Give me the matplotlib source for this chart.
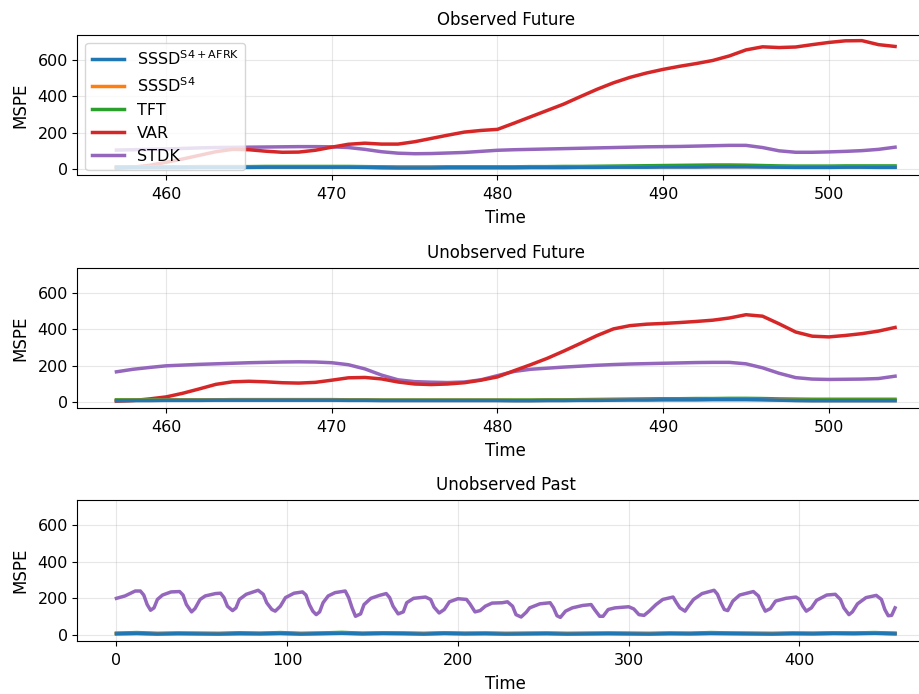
import matplotlib
matplotlib.use("Agg")
import matplotlib.pyplot as plt
import numpy as np

# ---------------- data ----------------
labels = [r"SSSD$^{\mathrm{S4+AFRK}}$", r"SSSD$^{\mathrm{S4}}$", "TFT", "VAR", "STDK"]
colors = ["#1f77b4", "#ff7f0e", "#2ca02c", "#d62728", "#9467bd"]
zorders = [6, 5, 4, 3, 2]

future_time = list(range(457, 505))

# Observed Future
obs_sssd_afrk = [8, 8, 8, 8, 8, 9, 9, 9, 9, 10, 10, 10, 10, 10, 10, 9, 7, 6, 6, 6, 7, 7, 7, 7,
                 7, 8, 8, 8, 9, 9, 10, 10, 10, 11, 11, 11, 12, 12, 12, 11, 10, 9, 9, 9, 10, 10, 9, 9]
obs_sssd = [9, 9, 9, 9, 9, 10, 10, 10, 10, 11, 11, 11, 11, 11, 11, 10, 8, 7, 7, 7, 8, 8, 8, 8,
            8, 9, 9, 9, 10, 10, 11, 11, 11, 12, 12, 12, 13, 13, 13, 12, 11, 10, 10, 10, 11, 11, 10, 10]
obs_tft = [12, 12, 12, 12, 12, 13, 13, 13, 13, 14, 14, 14, 14, 14, 14, 13, 12, 11, 11, 11, 12, 12, 12, 12,
           12, 13, 13, 14, 14, 15, 16, 17, 18, 19, 20, 21, 22, 22, 21, 19, 17, 16, 16, 16, 17, 17, 17, 17]
obs_var = [5, 10, 20, 37, 55, 75, 95, 108, 106, 98, 92, 93, 103, 120, 136, 142, 137, 137, 150, 168,
           186, 203, 212, 218, 252, 287, 322, 357, 398, 438, 474, 504, 528, 548, 565, 580, 597, 622,
           655, 672, 668, 671, 684, 696, 705, 706, 684, 674]
obs_stdk = [104, 106, 108, 110, 113, 116, 118, 119, 120, 121, 122, 123, 123, 122, 118, 108, 95, 87,
            84, 85, 88, 91, 97, 103, 106, 108, 110, 112, 114, 116, 118, 120, 122, 123, 124, 126, 128,
            130, 130, 118, 100, 92, 92, 94, 97, 101, 108, 120]

# Unobserved Future
unobs_sssd_afrk = [7, 8, 8, 9, 9, 9, 10, 10, 10, 10, 10, 10, 10, 10, 9, 9, 8, 8, 8, 8, 8, 8, 8, 8,
                   7, 7, 8, 8, 9, 9, 10, 11, 11, 12, 12, 12, 13, 13, 13, 12, 10, 8, 7, 7, 7, 7, 7, 7]
unobs_sssd = [8, 9, 9, 10, 10, 10, 11, 11, 11, 11, 11, 11, 11, 11, 10, 10, 9, 9, 9, 9, 9, 9, 9, 9,
              8, 8, 9, 9, 10, 10, 11, 12, 12, 13, 13, 13, 14, 14, 14, 13, 11, 9, 8, 8, 8, 8, 8, 8]
unobs_tft = [12, 12, 12, 12, 12, 12, 12, 13, 13, 13, 13, 13, 13, 13, 12, 12, 11, 11, 11, 11, 11, 11, 11, 11,
             11, 11, 12, 12, 13, 14, 15, 16, 17, 18, 18, 19, 19, 20, 20, 19, 17, 16, 15, 15, 15, 15, 15, 15]
unobs_var = [4, 8, 17, 28, 48, 72, 97, 111, 114, 111, 106, 104, 108, 120, 133, 135, 127, 110, 99, 96,
             99, 106, 120, 138, 172, 205, 240, 280, 322, 365, 402, 420, 428, 432, 437, 443, 450, 462,
             480, 472, 430, 385, 362, 358, 366, 376, 390, 410]
unobs_stdk = [166, 180, 190, 199, 203, 207, 210, 213, 216, 218, 220, 221, 220, 216, 205, 182, 148,
              122, 112, 109, 107, 110, 122, 145, 168, 180, 186, 192, 197, 202, 206, 209, 211, 213,
              215, 217, 218, 218, 210, 188, 158, 134, 126, 124, 125, 126, 129, 142]

# Unobserved Past
past_time_low = list(range(0, 457, 12))
past_sssd_afrk = [6, 8, 5, 7, 6, 5, 7, 6, 8, 5, 7, 9, 6, 8, 7, 5, 8, 6, 7, 5, 6, 7, 5, 6, 7, 6, 5,
                  7, 6, 8, 7, 6, 5, 7, 6, 8, 7, 9, 6]
past_sssd = [7, 9, 6, 8, 7, 6, 8, 7, 9, 6, 8, 10, 7, 9, 8, 6, 9, 7, 8, 6, 7, 8, 6, 7, 8, 7, 6,
             8, 7, 9, 8, 7, 6, 8, 7, 9, 8, 10, 7]
past_tft = [10, 13, 9, 11, 10, 9, 12, 10, 13, 9, 11, 14, 10, 12, 11, 9, 12, 10, 11, 9, 10, 11, 9,
            10, 11, 10, 9, 11, 10, 13, 11, 10, 9, 11, 10, 12, 11, 13, 10]

past_time_stdk = [0, 5, 11, 14, 16, 18, 20, 22, 24, 27, 32, 37, 39, 41, 44, 46, 49, 52, 58, 61, 63,
                  65, 68, 70, 72, 76, 83, 86, 88, 91, 93, 96, 99, 104, 109, 111, 113, 115, 117, 119,
                  121, 124, 128, 134, 136, 138, 140, 143, 145, 149, 154, 158, 160, 162, 165, 168,
                  170, 174, 181, 184, 186, 189, 192, 195, 200, 205, 207, 210, 213, 216, 220, 226,
                  229, 232, 234, 237, 240, 242, 248, 254, 256, 258, 260, 263, 267, 273, 278, 280,
                  283, 285, 288, 292, 300, 303, 306, 309, 312, 316, 320, 326, 328, 330, 333, 335,
                  338, 343, 350, 352, 354, 356, 358, 361, 365, 373, 376, 378, 380, 383, 386, 392,
                  398, 400, 402, 404, 407, 410, 416, 421, 424, 426, 429, 431, 434, 439, 445, 448,
                  450, 452, 454, 456]
past_stdk = [200, 213, 240, 240, 218, 166, 135, 148, 194, 218, 235, 237, 218, 166, 126, 144, 194,
             213, 226, 228, 204, 157, 133, 148, 194, 222, 244, 222, 176, 139, 130, 157, 204, 228,
             235, 218, 166, 130, 111, 126, 176, 213, 231, 240, 204, 148, 102, 115, 166, 200, 216,
             226, 204, 157, 115, 126, 176, 200, 207, 194, 152, 120, 139, 181, 198, 194, 170, 126,
             133, 157, 174, 176, 181, 157, 111, 98, 124, 148, 170, 176, 148, 105, 96, 130, 148,
             161, 166, 139, 102, 102, 139, 148, 154, 142, 111, 107, 130, 166, 194, 207, 176, 148,
             130, 157, 194, 226, 244, 222, 176, 139, 133, 185, 218, 237, 213, 166, 130, 144, 185,
             200, 207, 194, 157, 130, 148, 189, 218, 222, 194, 148, 111, 126, 170, 204, 216, 194,
             139, 105, 107, 148]

titles = ["Observed Future", "Unobserved Future", "Unobserved Past"]

# ---------------- plot ----------------
fig = plt.figure(figsize=(9.2, 6.94), dpi=100)
W, H = 920.0, 694.0
left = 77.5 / W
width = 856.5 / W
boxes = [(35, 175), (268, 408), (500, 641)]
axes = [fig.add_axes([left, 1 - b / H, width, (b - t) / H]) for t, b in boxes]

panels = [
    (future_time, [obs_sssd_afrk, obs_sssd, obs_tft, obs_var, obs_stdk]),
    (future_time, [unobs_sssd_afrk, unobs_sssd, unobs_tft, unobs_var, unobs_stdk]),
]
for ax, (tt, series) in zip(axes[:2], panels):
    for s, lab, c, z in zip(series, labels, colors, zorders):
        ax.plot(tt, s, color=c, lw=2.5, label=lab, zorder=z, solid_joinstyle="round")

ax3 = axes[2]
for s, lab, c, z in zip([past_sssd_afrk, past_sssd, past_tft], labels[:3], colors[:3], zorders[:3]):
    ax3.plot(past_time_low, s, color=c, lw=2.5, label=lab, zorder=z)
ax3.plot(past_time_stdk, past_stdk, color=colors[4], lw=2.5, label=labels[4],
         zorder=zorders[4], solid_joinstyle="round")

for ax, title in zip(axes, titles):
    ax.set_title(title, fontsize=12, pad=7)
    ax.set_xlabel("Time", fontsize=12, labelpad=5.5)
    ax.set_ylabel("MSPE", fontsize=12, labelpad=6)
    ax.set_ylim(-33, 737)
    ax.set_yticks([0, 200, 400, 600])
    ax.tick_params(labelsize=11.5)
    ax.tick_params(axis="x", pad=5)
    ax.grid(True, alpha=0.3)

axes[0].set_xlim(454.65, 506.35)
axes[1].set_xlim(454.65, 506.35)
axes[2].set_xlim(-22.8, 478.8)

leg = axes[0].legend(loc="upper left", fontsize=11.5)
leg.set_zorder(10)

fig.savefig("out.png", dpi=100)
